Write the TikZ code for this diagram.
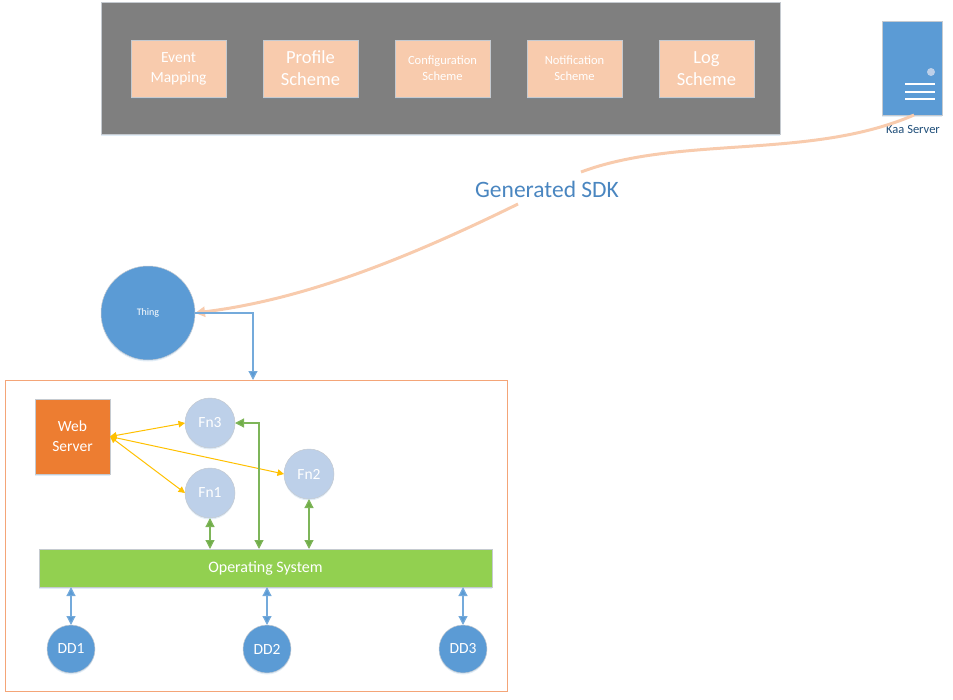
\documentclass[tikz,border=0pt]{standalone}
\usepackage{fontspec}
\setmainfont{Carlito}
\usetikzlibrary{arrows.meta, shadows}
\definecolor{blockgray}{HTML}{7F7F7F}
\definecolor{peach}{HTML}{F8CBAD}
\definecolor{bluefill}{HTML}{5B9BD5}
\definecolor{paleblue}{HTML}{BDD0E9}
\definecolor{webfill}{HTML}{ED7D31}
\definecolor{osfill}{HTML}{92D050}
\definecolor{edgegray}{HTML}{C5CAD0}
\definecolor{framecol}{HTML}{F4A578}
\definecolor{fnyellow}{HTML}{FFC000}
\definecolor{fngreen}{HTML}{70AD47}
\definecolor{sdkblue}{HTML}{4A86C0}
\definecolor{kaatext}{HTML}{1F4E79}
\tikzset{
  softshadow/.style={drop shadow={shadow xshift=0pt, shadow yshift=-1.5pt, opacity=.18, fill=bluefill}},
  box/.style={rectangle, draw=edgegray, line width=.8pt, inner sep=0pt, outer sep=0pt, align=center, text=white, softshadow},
  schemebox/.style={box, fill=peach, minimum width=95pt, minimum height=57pt},
  fn/.style={circle, fill=paleblue, draw=edgegray, line width=.5pt, minimum size=50pt, inner sep=0pt, outer sep=0pt, text=white, font=\fontsize{15.5}{18}\selectfont, softshadow},
  dd/.style={circle, fill=bluefill, draw=edgegray, line width=.5pt, minimum size=48pt, inner sep=0pt, outer sep=0pt, text=white, font=\fontsize{15.5}{18}\selectfont, softshadow},
  bluelink/.style={draw=bluefill!85!white, line width=1.2pt, {Triangle[width=9pt,length=9pt,fill=bluefill]}-{Triangle[width=9pt,length=9pt,fill=bluefill]}},
  greenlink/.style={draw=fngreen!90!white, line width=1.2pt, {Triangle[width=9pt,length=9pt,fill=fngreen]}-{Triangle[width=9pt,length=9pt,fill=fngreen]}},
  yellowlink/.style={draw=fnyellow, line width=1pt, {Triangle[width=6.5pt,length=6.5pt]}-{Triangle[width=6.5pt,length=6.5pt]}},
  sdklink/.style={draw=peach, line width=3pt}
}
\begin{document}
\begin{tikzpicture}[x=1pt, y=-1pt]
  \useasboundingbox (0,0) rectangle (953,699);
  % schemes block
  \node[box, fill=blockgray, minimum width=679pt, minimum height=132pt] (block) at (440.5,68) {};
  \node[schemebox, font=\fontsize{15.5}{19.5}\selectfont] (event) at (178.5,69) {Event\\Mapping};
  \node[schemebox, font=\fontsize{18.5}{22}\selectfont] (profile) at (310.5,68.5) {Profile\\Scheme};
  \node[schemebox, font=\fontsize{12.5}{16}\selectfont] (config) at (442.5,68.5) {Configuration\\Scheme};
  \node[schemebox, font=\fontsize{12.5}{16}\selectfont] (notif) at (574.5,68.5) {Notification\\Scheme};
  \node[schemebox, font=\fontsize{18.5}{22}\selectfont] (logs) at (706.5,68.5) {Log\\Scheme};
  % server
  \node[box, fill=bluefill, minimum width=60pt, minimum height=94pt] (server) at (912,68) {};
  \node[circle, fill=paleblue, minimum size=8pt, inner sep=0pt] (led) at (931,72) {};
  \draw[white, line width=2pt] (905,84) -- (935,84);
  \draw[white, line width=2pt] (905,91.5) -- (935,91.5);
  \draw[white, line width=2pt] (905,99) -- (935,99);
  \node[text=kaatext, font=\fontsize{12.5}{14}\selectfont] (kaa) at (913,129) {Kaa Server};
  % thing and frame
  \node[circle, fill=bluefill, draw=edgegray, line width=.5pt, minimum size=94pt, inner sep=0pt, outer sep=0pt, text=white, font=\fontsize{10}{12}\selectfont, softshadow] (thing) at (148,313) {\raisebox{-1pt}{Thing}};
  \node[rectangle, draw=framecol, line width=1pt, minimum width=502pt, minimum height=311pt, outer sep=0pt] (frame) at (256,535.5) {};
  \coordinate (framein) at (253,380);
  % sdk curve
  \coordinate (serverout) at (914,115);
  \node[text=sdkblue, font=\fontsize{23.5}{27}\selectfont, inner sep=0pt] (sdk) at (547,189) {Generated SDK};
  \coordinate (sdkin) at (581,172);
  \coordinate (sdkout) at (518,204);
  \draw[sdklink] (serverout) .. controls (810,160) and (680,135) .. (sdkin);
  \draw[sdklink, -{Triangle[width=10pt,length=10pt]}] (sdkout) .. controls (400,262) and (300,300) .. (thing.east);
  \draw[draw=bluefill!85!white, line width=1.2pt, -{Triangle[width=9pt,length=9pt,fill=bluefill]}] (thing.east) -| (framein);
  % inside the frame
  \node[box, fill=webfill, minimum size=75pt, font=\fontsize{15.5}{20}\selectfont] (web) at (72.5,436.5) {Web\\Server};
  \node[fn] (fnthree) at (210,423) {Fn3};
  \node[fn] (fnone) at (210,493) {Fn1};
  \node[fn] (fntwo) at (309,474) {Fn2};
  \node[box, fill=osfill, minimum width=453pt, minimum height=38pt, font=\fontsize{16}{18}\selectfont] (os) at (265.5,568) {Operating System};
  \node[dd] (ddone) at (71,649) {DD1};
  \node[dd] (ddtwo) at (267,649) {DD2};
  \node[dd] (ddthree) at (463,649) {DD3};
  \coordinate (osbus) at (259,549);
  \draw[yellowlink] (web.east) -- (fnthree.west);
  \draw[yellowlink] (web.east) -- (fnone.west);
  \draw[yellowlink] (web.east) -- (fntwo.west);
  \draw[greenlink] (fnone.south) -- (fnone.south |- os.north);
  \draw[greenlink] (fnthree.east) -| (osbus);
  \draw[greenlink] (fntwo.south) -- (fntwo.south |- os.north);
  \draw[bluelink] (ddone.north) -- (ddone.north |- os.south);
  \draw[bluelink] (ddtwo.north) -- (ddtwo.north |- os.south);
  \draw[bluelink] (ddthree.north) -- (ddthree.north |- os.south);
\end{tikzpicture}
\end{document}
